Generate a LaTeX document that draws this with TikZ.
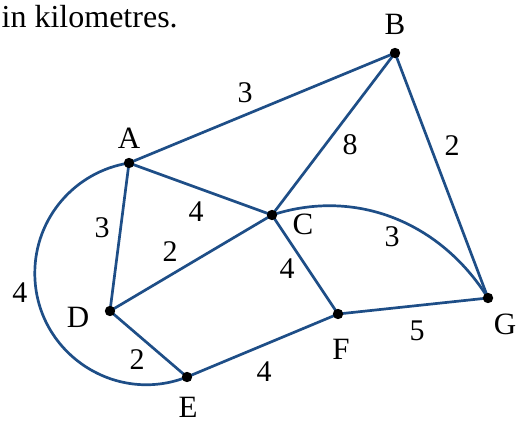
\documentclass[tikz,border=0pt]{standalone}
\usepackage{fontspec}
\setmainfont{Liberation Serif}
\definecolor{edgeblue}{RGB}{30,78,135}
\begin{document}
\begin{tikzpicture}[x=1pt,y=1pt,
  lbl/.style={font=\fontsize{31}{32}\selectfont,inner sep=0pt},
  wt/.style={font=\fontsize{30}{32}\selectfont,inner sep=0pt},
  edge/.style={draw=edgeblue,line width=2.7pt}]
\useasboundingbox (0,0) rectangle (516,426);
\node[anchor=base west,inner sep=0pt,font=\fontsize{32}{33}\selectfont] (title) at (1.5,398) {in kilometres.};
% vertices
\coordinate (A) at (129,263);
\coordinate (B) at (395,373);
\coordinate (C) at (272,211);
\coordinate (D) at (110,115);
\coordinate (E) at (187,49);
\coordinate (F) at (338,112);
\coordinate (G) at (488,128);
\coordinate (L) at (34.8,152.8);
% edges
\draw[edge] (A) -- (B);
\draw[edge] (A) -- (C);
\draw[edge] (A) -- (D);
\draw[edge] (B) -- (C);
\draw[edge] (B) -- (G);
\draw[edge] (D) -- (C);
\draw[edge] (C) -- (F);
\draw[edge] (D) -- (E);
\draw[edge] (E) -- (F);
\draw[edge] (F) -- (G);
\draw[edge] (C) to[out=18,in=122,looseness=0.98] (G);
\draw[edge] (A) to[out=189,in=90,looseness=0.97] (L) to[out=270,in=201.4,looseness=1.09] (E);
% vertex dots
\foreach \v in {A,B,C,D,E,F,G} \fill (\v) circle (5.2pt);
% vertex labels
\node[lbl] (tA) at (129,288) {A};
\node[lbl] (tB) at (395,402) {B};
\node[lbl] (tC) at (303,202) {C};
\node[lbl] (tD) at (78,109) {D};
\node[lbl] (tE) at (188,19) {E};
\node[lbl] (tF) at (341,77) {F};
\node[lbl] (tG) at (505,102) {G};
% weights
\node[wt] (wAB) at (245,333) {3};
\node[wt] (wBC) at (350,281) {8};
\node[wt] (wBG) at (452,280) {2};
\node[wt] (wAC) at (196,214) {4};
\node[wt] (wAD) at (102,198) {3};
\node[wt] (wDC) at (170,174) {2};
\node[wt] (wCF) at (287,157) {4};
\node[wt] (wCG) at (392,189) {3};
\node[wt] (wFG) at (417,95) {5};
\node[wt] (wEF) at (264,54) {4};
\node[wt] (wDE) at (137,66) {2};
\node[wt] (wAE) at (20,133) {4};
\end{tikzpicture}
\end{document}
